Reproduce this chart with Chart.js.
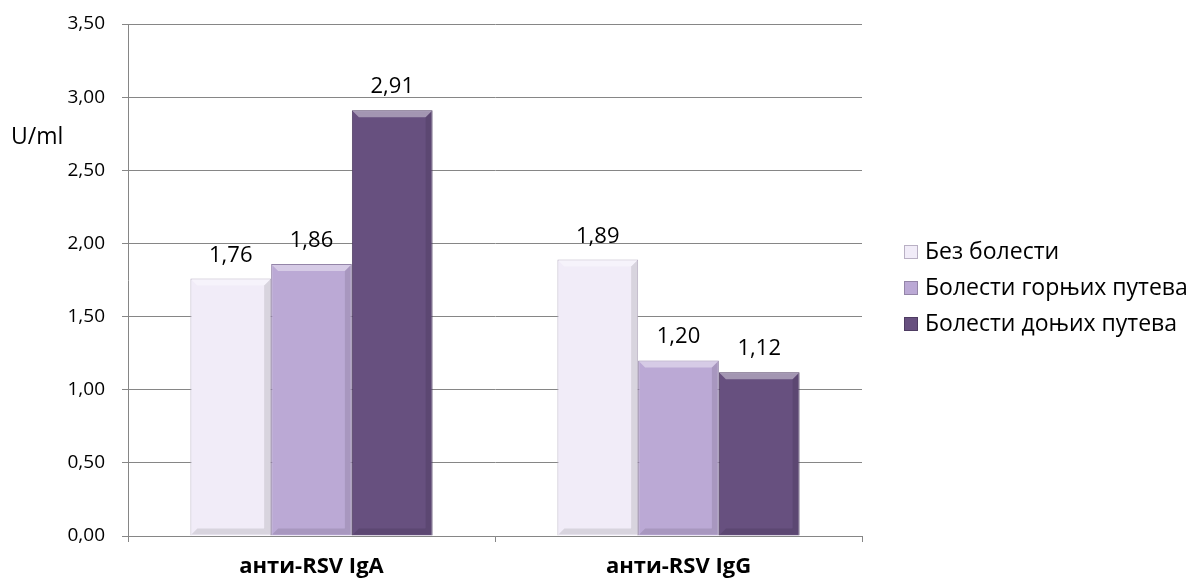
<!DOCTYPE html>
<html>
<head>
<meta charset="utf-8">
<script src="https://cdn.jsdelivr.net/npm/chart.js@4/dist/chart.umd.min.js"></script>
<style>
  html, body { margin: 0; padding: 0; background: #fff; }
  #wrap { width: 1189px; height: 584px; }
</style>
</head>
<body>
<div id="wrap"><canvas id="rsvChart" width="1189" height="584"></canvas></div>
<script>
    const categories = ['анти-RSV IgA', 'анти-RSV IgG'];
    const seriesNames = ['Без болести', 'Болести горњих путева', 'Болести доњих путева'];
    const noDisease = [1.76, 1.89];
    const upperTract = [1.86, 1.20];
    const lowerTract = [2.91, 1.12];
    const yTicks = [0, 0.5, 1, 1.5, 2, 2.5, 3, 3.5];

    const colors = ['#F1ECF8', '#BBA9D5', '#67507F'];
    const edges = ['#B9B0C4', '#9485A8', '#4E3C62'];
    const fontFamily = '"Open Sans", sans-serif';

    const fmt = v => v.toFixed(2).replace('.', ',');

    // value labels, bevel highlight, axis title and legend
    const decor = {
      id: 'decor',
      afterDatasetsDraw(chart) {
        const c = chart.ctx;
        chart.data.datasets.forEach((ds, i) => {
          chart.getDatasetMeta(i).data.forEach((bar, j) => {
            const w = bar.width, x0 = bar.x - w / 2, x1 = bar.x + w / 2;
            const top = bar.y, bot = bar.base, b = 7;
            c.save();
            c.fillStyle = 'rgba(255,255,255,0.40)';
            c.beginPath();
            c.moveTo(x0 + 1, top + 1); c.lineTo(x1 - 1, top + 1);
            c.lineTo(x1 - b, top + b); c.lineTo(x0 + b, top + b);
            c.closePath(); c.fill();
            c.fillStyle = 'rgba(0,0,0,0.10)';
            c.beginPath();
            c.moveTo(x1 - 1, top + 1); c.lineTo(x1 - 1, bot - 1);
            c.lineTo(x1 - b, bot - b); c.lineTo(x1 - b, top + b);
            c.closePath(); c.fill();
            c.beginPath();
            c.moveTo(x0 + 1, bot - 1); c.lineTo(x1 - 1, bot - 1);
            c.lineTo(x1 - b, bot - b); c.lineTo(x0 + b, bot - b);
            c.closePath(); c.fill();
            c.fillStyle = '#000';
            c.font = '22px ' + fontFamily;
            c.textAlign = 'center';
            c.textBaseline = 'alphabetic';
            c.fillText(fmt(ds.data[j]), bar.x, top - 17);
            c.restore();
          });
        });
      },
      afterDraw(chart) {
        const c = chart.ctx;
        c.save();
        c.fillStyle = '#000';
        c.font = '23px ' + fontFamily;
        c.textAlign = 'left';
        c.textBaseline = 'middle';
        c.fillText('U/ml', 11, 137);
        c.font = '23px ' + fontFamily;
        chart.data.datasets.forEach((ds, i) => {
          const y = 252 + i * 36;
          const x = 904;
          c.fillStyle = ds.backgroundColor;
          c.fillRect(x, y - 7, 14, 14);
          c.strokeStyle = edges[i];
          c.lineWidth = 1;
          c.strokeRect(x + 0.5, y - 6.5, 13, 13);
          c.fillStyle = '#000';
          c.fillText(ds.label, x + 21, y);
        });
        c.restore();
      }
    };

    new Chart(document.getElementById('rsvChart').getContext('2d'), {
      type: 'bar',
      data: {
        labels: categories,
        datasets: [noDisease, upperTract, lowerTract].map((d, i) => ({
          label: seriesNames[i],
          data: d,
          backgroundColor: colors[i],
          borderColor: edges[i],
          borderWidth: 1,
          categoryPercentage: 0.66,
          barPercentage: 1
        }))
      },
      options: {
        responsive: false,
        animation: false,
        layout: { padding: { top: 24, right: 327, left: 0, bottom: 0 } },
        plugins: { legend: { display: false }, tooltip: { enabled: false } },
        scales: {
          x: {
            afterFit: s => { s.height = 48; },
            grid: { offset: true, drawOnChartArea: false, drawTicks: true, tickLength: 6, color: '#868686' },
            border: { color: '#868686' },
            ticks: { color: '#000', font: { family: fontFamily, size: 22, weight: 'bold' }, padding: 12 }
          },
          y: {
            min: 0,
            max: 3.5,
            afterFit: s => { s.width = 128; s.paddingTop = 0; s.paddingBottom = 0; },
            afterBuildTicks: s => { s.ticks = yTicks.map(v => ({ value: v })); },
            grid: { color: '#868686', tickLength: 6 },
            border: { color: '#868686' },
            ticks: { color: '#000', font: { family: fontFamily, size: 19 }, padding: 17, callback: v => fmt(v) }
          }
        }
      },
      plugins: [decor]
    });
</script>
</body>
</html>
